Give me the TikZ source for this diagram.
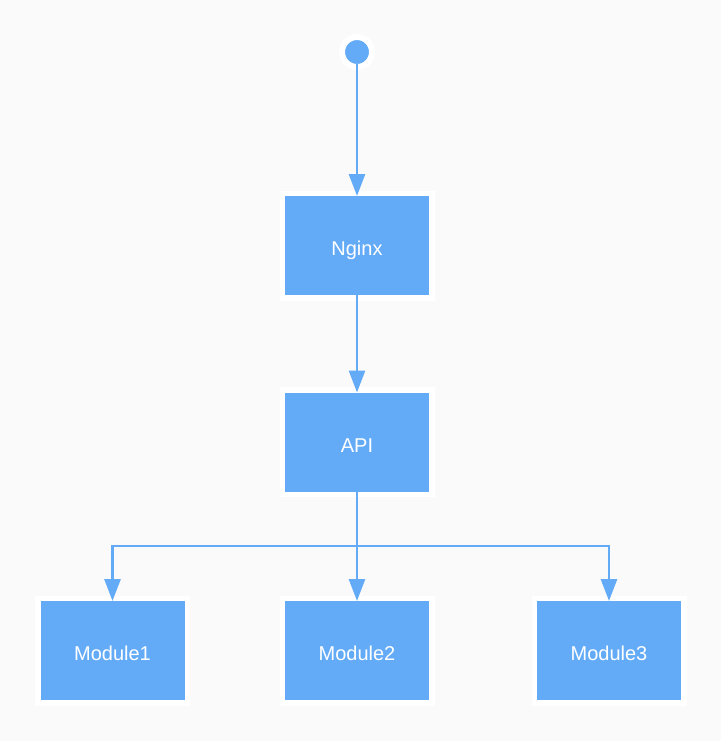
\documentclass[tikz,border=0pt]{standalone}
\usepackage{fontspec}
\setmainfont{Liberation Sans}
\usetikzlibrary{arrows.meta}
\definecolor{bg}{HTML}{FAFAFA}
\definecolor{nodeblue}{HTML}{63ABF7}
\tikzset{
  box/.style={rectangle, fill=nodeblue, draw=white, line width=5.5pt,
    minimum width=149.5pt, minimum height=104.5pt, inner sep=0pt, outer sep=-2.75pt,
    text=white, font=\fontsize{20}{24}\selectfont, text height=20pt, text depth=0pt},
  startdot/.style={circle, fill=nodeblue, draw=white, line width=6pt,
    minimum size=30pt, inner sep=0pt, outer sep=-3pt},
  conn/.style={draw=nodeblue, line width=2.8pt,
    -{Triangle[length=22pt,width=16pt]}},
}
\begin{document}
\begin{tikzpicture}[x=1pt,y=-1pt]
\fill[bg] (0,0) rectangle (721,741);
\useasboundingbox (0,0) rectangle (721,741);
\node[startdot] (start) at (357,52) {};
\node[box] (nginx) at (357,245.5) {Nginx};
\node[box] (api) at (357,442) {API};
\node[box] (m1) at (112.5,650.5) {Module1};
\node[box] (m2) at (357,650.5) {Module2};
\node[box] (m3) at (609,650.5) {Module3};
\coordinate (bus) at (0,546);
\draw[conn] (start) -- (nginx);
\draw[conn] (nginx) -- (api);
\draw[conn] (api.south) -- (api.south |- bus) -| (m1.north);
\draw[conn] (api.south) -- (m2.north);
\draw[conn] (api.south) -- (api.south |- bus) -| (m3.north);
\end{tikzpicture}
\end{document}
